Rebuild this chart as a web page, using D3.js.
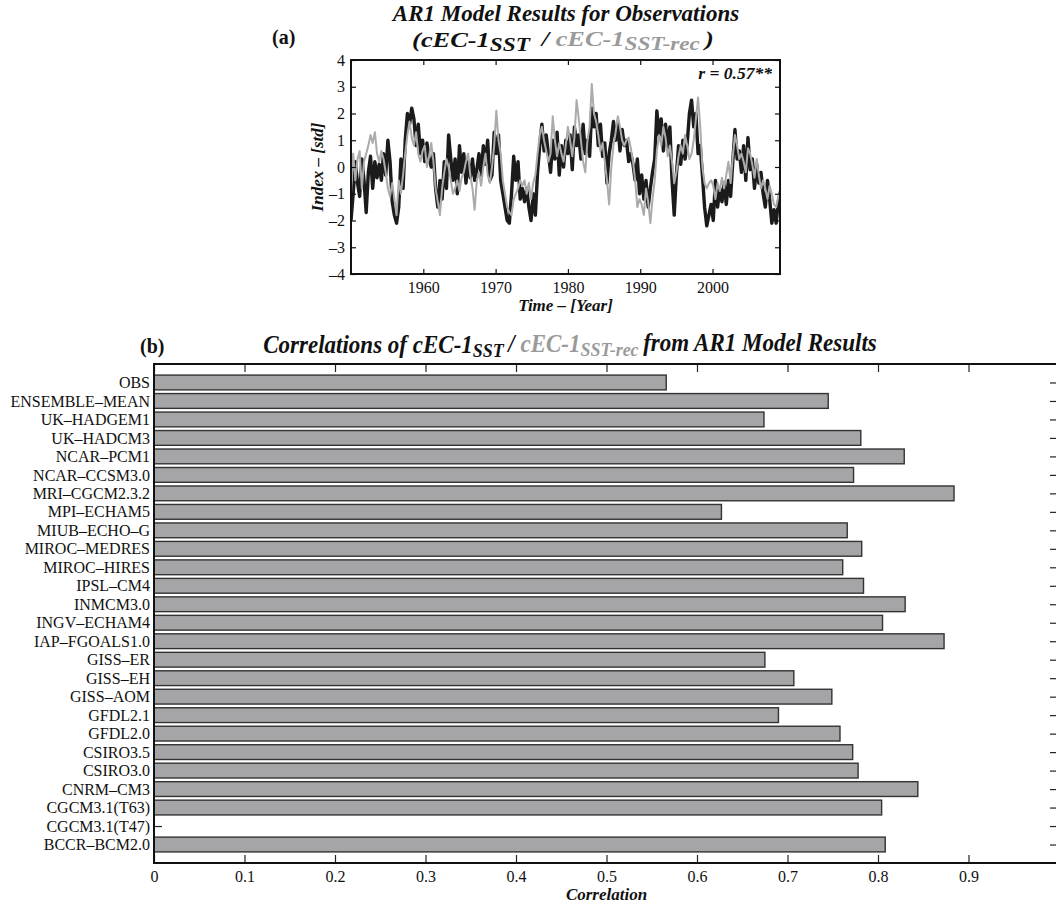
<!DOCTYPE html>
<html>
<head>
<meta charset="utf-8">
<script src="https://cdn.jsdelivr.net/npm/d3@7"></script>
<style>
  body { margin: 0; background: #fff; }
  text { font-family: "Liberation Serif", "Times New Roman", serif; fill: #111; }
</style>
</head>
<body>
<svg id="fig" width="1056" height="905"></svg>
<script>
// ---- panel (a) data: AR1 index, sampled every 0.3 yr from 1950 ----
const tStart = 1950, tStep = 0.3;
const obsSeries = [
  -2.0,-1.0,0.2,-0.6,-1.1,0.3,-0.5,-1.7,-0.2,0.4,
  -0.8,0.2,-0.4,0.1,-0.5,0.5,-0.3,1.0,0.2,-1.3,
  -1.8,-2.1,-1.5,0.3,-0.8,1.0,2.0,1.6,2.2,1.8,
  0.8,1.6,0.5,1.0,0.2,0.9,0.3,0.0,0.5,-0.8,
  -1.5,-0.5,-1.2,0.2,-0.8,1.2,0.3,-0.5,0.3,-1.0,
  0.8,-0.2,0.5,-0.6,0.2,-0.4,0.3,-0.5,-0.1,0.5,
  -0.3,0.8,0.1,1.0,-0.5,-0.3,1.3,0.5,1.2,-0.5,
  -1.0,-1.5,-2.0,-2.1,-1.0,0.4,-0.5,0.2,-1.2,-0.8,
  -1.3,-0.8,-1.5,-2.0,-1.0,-1.8,-0.2,0.8,1.6,0.6,
  1.2,0.5,-0.2,1.0,0.3,1.3,-0.3,0.8,0.0,1.0,
  0.5,1.2,-0.1,1.5,0.8,1.2,0.3,1.6,0.5,1.0,
  0.4,2.2,1.5,2.0,0.8,1.6,0.4,0.9,-0.6,0.5,
  1.0,1.7,1.0,1.6,0.6,1.4,0.8,1.0,0.2,0.5,
  0.1,-0.5,0.3,-1.0,-0.3,-1.2,-0.5,-1.5,-0.8,-0.2,
  0.3,2.1,1.2,1.8,0.6,1.6,0.7,1.5,-0.5,-1.8,
  -0.3,0.8,0.1,1.0,0.3,0.9,2.0,2.5,1.5,2.0,
  0.5,0.8,-0.3,-1.5,-2.2,-1.8,-1.4,-2.0,-0.5,-1.5,
  -0.8,-1.3,-0.6,-1.4,-0.5,-1.1,0.2,1.4,0.3,0.6,
  -0.2,0.8,-0.5,1.1,-0.1,0.3,-0.8,0.1,-0.6,-0.2,
  -1.0,-1.5,-0.5,-1.2,-2.1,-1.6,-2.1,-1.3,-0.9
];
const recSeries = [
  -1.0,0.5,-0.5,0.3,0.6,-0.8,0.2,0.5,0.8,1.2,
  0.9,1.3,0.5,0.2,0.6,0.3,-0.2,-0.8,-1.1,-0.6,
  -1.2,-1.8,-0.5,-1.0,-0.3,0.5,1.2,1.7,1.1,0.8,
  1.3,0.5,0.2,0.6,0.8,0.0,0.4,0.9,0.2,-0.8,
  -1.3,-1.8,-0.8,-0.2,0.3,0.0,-0.5,-1.0,-0.8,-0.5,
  -0.9,-0.4,-0.2,0.2,0.5,-0.3,-0.8,-1.6,-0.5,-0.2,
  -0.7,0.0,0.5,-0.3,-0.6,0.0,0.8,2.1,1.0,0.5,
  -0.5,-1.0,-1.5,-1.7,-1.8,-1.2,-1.0,-0.8,-0.5,-0.7,
  -0.5,-1.0,-0.6,-1.2,-0.6,-0.3,0.5,1.2,1.5,1.0,
  0.6,0.2,0.5,1.9,1.0,0.4,0.9,0.5,0.2,0.8,
  1.5,1.0,0.4,1.1,2.5,1.8,1.0,0.2,-0.2,1.0,
  1.5,3.1,2.0,1.7,1.2,0.6,0.9,0.2,-0.5,-1.4,
  0.0,0.8,1.3,1.9,1.5,1.0,0.8,1.0,1.1,0.7,
  0.2,-0.5,-1.5,-1.2,-1.4,-1.8,-0.8,-1.3,-2.1,-1.2,
  -0.5,0.6,1.2,0.8,1.5,1.1,0.4,0.8,0.2,-0.6,
  -0.2,0.4,0.8,0.5,1.2,0.8,0.3,0.5,1.0,1.8,
  2.6,1.5,0.0,-0.6,-0.8,-0.6,-0.5,-0.7,-1.2,-0.6,
  -0.9,-0.4,-0.8,-0.3,0.2,-0.6,0.4,1.2,0.8,0.3,
  0.5,0.2,-0.2,0.7,0.5,0.1,-0.4,0.3,-0.3,-0.8,
  -0.5,-0.8,-1.2,-0.7,-1.0,-1.4,-1.5,-1.1,-0.9
];
const yearTicks = [1960, 1970, 1980, 1990, 2000];
const indexTicks = [-4, -3, -2, -1, 0, 1, 2, 3, 4];

// ---- panel (b) data ----
const models = ["OBS", "ENSEMBLE–MEAN", "UK–HADGEM1", "UK–HADCM3", "NCAR–PCM1", "NCAR–CCSM3.0",
  "MRI–CGCM2.3.2", "MPI–ECHAM5", "MIUB–ECHO–G", "MIROC–MEDRES", "MIROC–HIRES", "IPSL–CM4",
  "INMCM3.0", "INGV–ECHAM4", "IAP–FGOALS1.0", "GISS–ER", "GISS–EH", "GISS–AOM", "GFDL2.1",
  "GFDL2.0", "CSIRO3.5", "CSIRO3.0", "CNRM–CM3", "CGCM3.1(T63)", "CGCM3.1(T47)", "BCCR–BCM2.0"];
const correlations = [0.566, 0.745, 0.674, 0.781, 0.829, 0.773,
  0.884, 0.627, 0.766, 0.782, 0.761, 0.784,
  0.830, 0.805, 0.873, 0.675, 0.707, 0.749, 0.690,
  0.758, 0.772, 0.778, 0.844, 0.804, null, 0.808];
const corrTicks = [0, 0.1, 0.2, 0.3, 0.4, 0.5, 0.6, 0.7, 0.8, 0.9];

const svg = d3.select("#fig");
const grayTxt = "#9a9a9a";

// helper: "cEC-1" with subscript, baseline restored afterwards
function addLabel(t, sub, color, subSize) {
  t.append("tspan").attr("fill", color).text("cEC-1");
  t.append("tspan").attr("fill", color).attr("font-size", subSize).attr("dy", "0.2em").text(sub);
  t.append("tspan").attr("dy", "-0.2em").text("\u2009");
}

// ================= panel (a) =================
const a = {left: 351, right: 780, top: 60, bottom: 274};
const xa = d3.scaleLinear().domain([1950, 2009.33]).range([a.left, a.right]);
const ya = d3.scaleLinear().domain([-4, 4]).range([a.bottom, a.top]);

const gA = svg.append("g");
const clip = svg.append("clipPath").attr("id", "clipA");
clip.append("rect").attr("x", a.left).attr("y", a.top)
  .attr("width", a.right - a.left).attr("height", a.bottom - a.top);

const line = d3.line()
  .x((d, i) => xa(tStart + i * tStep))
  .y(d => ya(d));

gA.append("path").datum(obsSeries)
  .attr("clip-path", "url(#clipA)")
  .attr("d", line).attr("fill", "none")
  .attr("stroke", "#1b1b1b").attr("stroke-width", 3.4).attr("stroke-linejoin", "round");
gA.append("path").datum(recSeries)
  .attr("clip-path", "url(#clipA)")
  .attr("d", line).attr("fill", "none")
  .attr("stroke", "#ababab").attr("stroke-width", 2).attr("stroke-linejoin", "round");

// axes with inward ticks
gA.append("g").attr("transform", `translate(0,${a.bottom})`)
  .call(d3.axisBottom(xa).tickValues(yearTicks).tickSize(-5).tickPadding(8).tickFormat(d3.format("d")));
gA.append("g").attr("transform", `translate(0,${a.top})`)
  .call(d3.axisTop(xa).tickValues(yearTicks).tickSize(-5).tickFormat(""));
gA.append("g").attr("transform", `translate(${a.left},0)`)
  .call(d3.axisLeft(ya).tickValues(indexTicks).tickSize(-5).tickPadding(6)
    .tickFormat(d => d < 0 ? "–" + Math.abs(d) : d));
gA.append("g").attr("transform", `translate(${a.right},0)`)
  .call(d3.axisRight(ya).tickValues(indexTicks).tickSize(-5).tickFormat(""));
gA.selectAll(".domain").remove();
gA.selectAll(".tick line").attr("stroke", "#111").attr("stroke-width", 1.2);
gA.selectAll(".tick text").attr("font-size", 16).attr("font-family", "Liberation Serif").attr("fill", "#222");
gA.append("rect").attr("x", a.left).attr("y", a.top)
  .attr("width", a.right - a.left).attr("height", a.bottom - a.top)
  .attr("fill", "none").attr("stroke", "#111").attr("stroke-width", 2);

gA.append("text").attr("x", a.right - 8).attr("y", 79).attr("text-anchor", "end")
  .attr("font-size", 17.5).attr("font-weight", "bold").attr("font-style", "italic")
  .text("r = 0.57**");

gA.append("text").attr("x", (a.left + a.right) / 2).attr("y", 311).attr("text-anchor", "middle")
  .attr("font-size", 17).attr("font-weight", "bold").attr("font-style", "italic")
  .text("Time – [Year]");
gA.append("text").attr("transform", `translate(323,${(a.top + a.bottom) / 2}) rotate(-90)`)
  .attr("text-anchor", "middle")
  .attr("font-size", 17).attr("font-weight", "bold").attr("font-style", "italic")
  .text("Index – [std]");

gA.append("text").attr("x", 566).attr("y", 21).attr("text-anchor", "middle")
  .attr("font-size", 23).attr("font-weight", "bold").attr("font-style", "italic")
  .text("AR1 Model Results for Observations");
const sub1 = gA.append("text").attr("transform", "translate(563,47) scale(1.2,1)")
  .attr("text-anchor", "middle")
  .attr("font-size", 22).attr("font-weight", "bold").attr("font-style", "italic");
sub1.append("tspan").text("(");
addLabel(sub1, "SST", "#111", "0.88em");
sub1.append("tspan").text(" / ");
addLabel(sub1, "SST-rec", grayTxt, "0.88em");
sub1.append("tspan").text(")");
gA.append("text").attr("x", 272).attr("y", 44)
  .attr("font-size", 20).attr("font-weight", "bold").text("(a)");

// ================= panel (b) =================
const b = {left: 154, right: 1059, top: 364, bottom: 863};
const n = models.length;
const xb = d3.scaleLinear().domain([0, 1]).range([b.left, b.right]);
const yb = d3.scaleLinear().domain([0, n + 1]).range([b.bottom, b.top]);
const pos = i => n - i;           // OBS on top
const barH = yb(0) - yb(0.8);

const gB = svg.append("g");
gB.selectAll("rect.bar")
  .data(models.map((m, i) => ({m, v: correlations[i], i})).filter(d => d.v != null))
  .join("rect").attr("class", "bar")
  .attr("x", xb(0))
  .attr("y", d => yb(pos(d.i)) - barH / 2)
  .attr("width", d => xb(d.v) - xb(0))
  .attr("height", barH)
  .attr("fill", "#a5a5a8").attr("stroke", "#333").attr("stroke-width", 1.4);

// y ticks (inside, both sides) and labels
const yTickVals = models.map((m, i) => pos(i));
gB.append("g").attr("transform", `translate(${b.left},0)`)
  .call(d3.axisLeft(yb).tickValues(yTickVals).tickSize(-8).tickPadding(4)
    .tickFormat(v => models[n - v]));
gB.append("g").attr("transform", `translate(${b.right},0)`)
  .call(d3.axisRight(yb).tickValues(yTickVals).tickSize(-9).tickFormat(""));
gB.append("g").attr("transform", `translate(0,${b.bottom})`)
  .call(d3.axisBottom(xb).tickValues(corrTicks).tickSize(-8).tickPadding(8).tickFormat(d3.format("")));
gB.append("g").attr("transform", `translate(0,${b.top})`)
  .call(d3.axisTop(xb).tickValues(corrTicks).tickSize(-8).tickFormat(""));
gB.selectAll(".domain").remove();
gB.selectAll(".tick line").attr("stroke", "#222").attr("stroke-width", 1.2);
gB.selectAll(".tick text").attr("font-family", "Liberation Serif").attr("fill", "#222").attr("font-size", 16);
gB.selectAll("rect.bar").raise();

gB.append("path")
  .attr("d", `M${b.right},${b.top}H${b.left}V${b.bottom}H${b.right}`)
  .attr("fill", "none").attr("stroke", "#111").attr("stroke-width", 2);

gB.append("text").attr("x", (b.left + b.right) / 2).attr("y", 900).attr("text-anchor", "middle")
  .attr("font-size", 17).attr("font-weight", "bold").attr("font-style", "italic")
  .text("Correlation");

const tb = gB.append("text").attr("transform", "translate(570,353) scale(0.92,1)")
  .attr("text-anchor", "middle")
  .attr("font-size", 25).attr("font-weight", "bold").attr("font-style", "italic");
tb.append("tspan").text("Correlations of ");
addLabel(tb, "SST", "#111", "0.78em");
tb.append("tspan").text("/ ");
addLabel(tb, "SST-rec", grayTxt, "0.78em");
tb.append("tspan").text("from AR1 Model Results");
gB.append("text").attr("x", 140).attr("y", 353)
  .attr("font-size", 20).attr("font-weight", "bold").text("(b)");
</script>
</body>
</html>
